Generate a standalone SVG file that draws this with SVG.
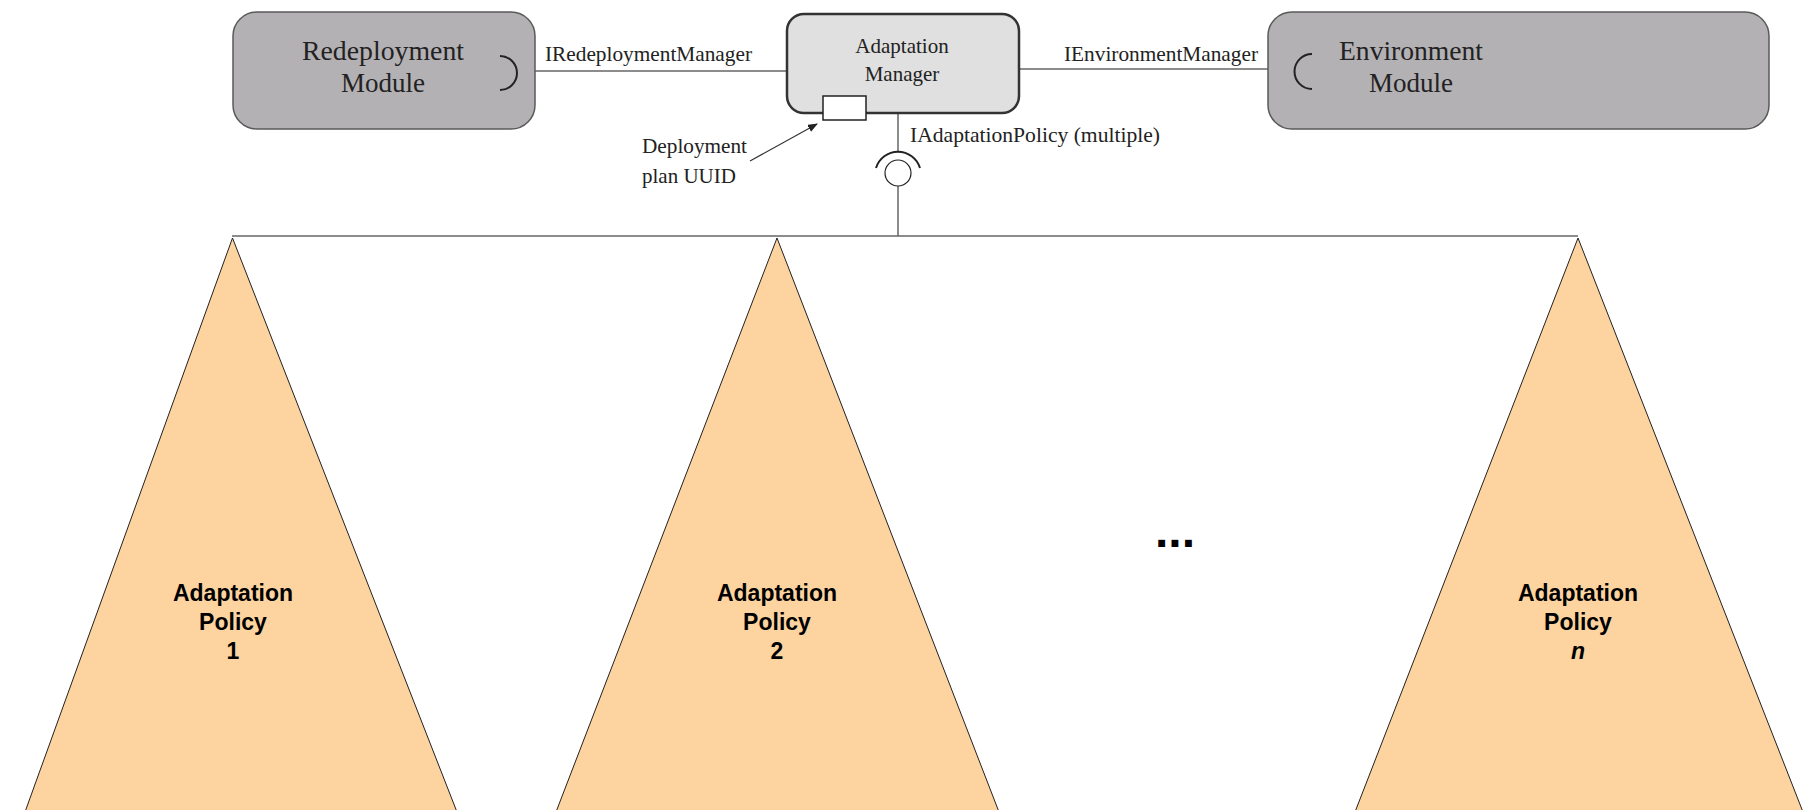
<svg xmlns="http://www.w3.org/2000/svg" width="1805" height="810" viewBox="0 0 1805 810">
<style>
.mod{fill:#b3b1b4;stroke:#5a5a5a;stroke-width:1.5}
.mgr{fill:#e0e0e0;stroke:#333;stroke-width:2.5}
.ser{font-family:"Liberation Serif",serif;fill:#222}
.big{font-size:27px}
.mid{font-size:21px}
.lbl{font-size:21px}
.pol{font-family:"Liberation Sans",Arial,sans-serif;font-weight:bold;font-size:23px;fill:#000}
.dots{font-size:48px}
.tri{fill:#fdd39f;stroke:#222;stroke-width:1}
.ln{stroke:#666;stroke-width:1.5;fill:none}
.sock{stroke:#222;stroke-width:2;fill:none}
</style>
<defs>
<marker id="ah" markerWidth="10" markerHeight="8" refX="9" refY="4" orient="auto" markerUnits="userSpaceOnUse">
<path d="M0,0 L10,4 L0,8 z" fill="#222"/>
</marker>
</defs>
<g id="connectors">
<line class="ln" x1="518" y1="71" x2="787" y2="71"/>
<line class="ln" x1="1019" y1="69" x2="1297" y2="69"/>
<line class="ln" x1="898" y1="113" x2="898" y2="151"/>
<line class="ln" x1="898" y1="186" x2="898" y2="236"/>
<line class="ln" x1="232" y1="236" x2="1578" y2="236"/>
<line x1="750" y1="161" x2="817" y2="124" stroke="#333" stroke-width="1.2" marker-end="url(#ah)"/>
</g>
<g id="redeployment-module">
<rect class="mod" x="233" y="12" width="302" height="117" rx="24"/>
<text class="ser big" x="383" y="60" text-anchor="middle" textLength="162" lengthAdjust="spacingAndGlyphs">Redeployment</text>
<text class="ser big" x="383" y="92" text-anchor="middle">Module</text>
<path class="sock" d="M500,56 A16,16 0 0 1 500,90"/>
</g>
<g id="adaptation-manager">
<rect class="mgr" x="787" y="14" width="232" height="99" rx="17"/>
<text class="ser mid" x="902" y="53" text-anchor="middle">Adaptation</text>
<text class="ser mid" x="902" y="81" text-anchor="middle">Manager</text>
<rect x="823" y="96" width="43" height="24" fill="#fff" stroke="#222" stroke-width="1.5"/>
</g>
<g id="environment-module">
<rect class="mod" x="1268" y="12" width="501" height="117" rx="24"/>
<text class="ser big" x="1411" y="60" text-anchor="middle" textLength="144" lengthAdjust="spacingAndGlyphs">Environment</text>
<text class="ser big" x="1411" y="92" text-anchor="middle">Module</text>
<path class="sock" d="M1312,54 A17,17 0 0 0 1312,89"/>
</g>
<g id="adaptation-policy-interface">
<path class="sock" d="M876,168 A23,23 0 0 1 920,168"/>
<circle cx="898" cy="173" r="13" fill="#fff" stroke="#222" stroke-width="1.2"/>
</g>
<g id="labels">
<text class="ser lbl" x="545" y="61" textLength="207" lengthAdjust="spacingAndGlyphs">IRedeploymentManager</text>
<text class="ser lbl" x="1064" y="61" textLength="194" lengthAdjust="spacingAndGlyphs">IEnvironmentManager</text>
<text class="ser lbl" x="910" y="142" textLength="250" lengthAdjust="spacingAndGlyphs">IAdaptationPolicy (multiple)</text>
<text class="ser lbl" x="642" y="153" textLength="105" lengthAdjust="spacingAndGlyphs">Deployment</text>
<text class="ser lbl" x="642" y="183">plan UUID</text>
</g>
<g id="policy-1">
<polygon class="tri" points="232.5,238 25,812 457,812"/>
<text class="pol" x="233" y="601" text-anchor="middle">Adaptation</text>
<text class="pol" x="233" y="630" text-anchor="middle">Policy</text>
<text class="pol" x="233" y="659" text-anchor="middle">1</text>
</g>
<g id="policy-2">
<polygon class="tri" points="777,238 556,812 999,812"/>
<text class="pol" x="777" y="601" text-anchor="middle">Adaptation</text>
<text class="pol" x="777" y="630" text-anchor="middle">Policy</text>
<text class="pol" x="777" y="659" text-anchor="middle">2</text>
</g>
<g id="ellipsis">
<text class="pol dots" x="1175" y="547" text-anchor="middle">...</text>
</g>
<g id="policy-n">
<polygon class="tri" points="1578,238 1355,812 1803,812"/>
<text class="pol" x="1578" y="601" text-anchor="middle">Adaptation</text>
<text class="pol" x="1578" y="630" text-anchor="middle">Policy</text>
<text class="pol" x="1578" y="659" text-anchor="middle" font-style="italic">n</text>
</g>
</svg>
